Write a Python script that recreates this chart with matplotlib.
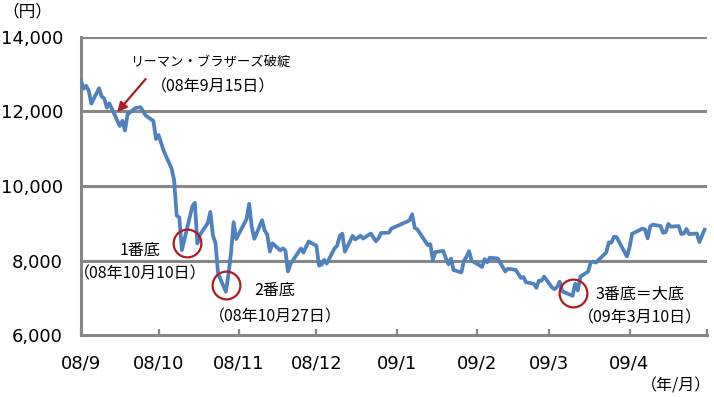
import matplotlib
matplotlib.use("Agg")
import matplotlib.pyplot as plt
import pandas as pd

plt.rcParams['font.family'] = ['Noto Sans CJK JP', 'DejaVu Sans']

# Nikkei average, daily close
dates = pd.to_datetime([
    "2008-09-01", "2008-09-02", "2008-09-03", "2008-09-04", "2008-09-05", "2008-09-08",
    "2008-09-09", "2008-09-10", "2008-09-11", "2008-09-12", "2008-09-16", "2008-09-17",
    "2008-09-18", "2008-09-19", "2008-09-22", "2008-09-24", "2008-09-25", "2008-09-26",
    "2008-09-29", "2008-09-30",
    "2008-10-01", "2008-10-02", "2008-10-03", "2008-10-06", "2008-10-07", "2008-10-08",
    "2008-10-09", "2008-10-10", "2008-10-14", "2008-10-15", "2008-10-16", "2008-10-17",
    "2008-10-20", "2008-10-21", "2008-10-22", "2008-10-23", "2008-10-24", "2008-10-27",
    "2008-10-28", "2008-10-29", "2008-10-30", "2008-10-31",
    "2008-11-04", "2008-11-05", "2008-11-06", "2008-11-07", "2008-11-10", "2008-11-11",
    "2008-11-12", "2008-11-13", "2008-11-14", "2008-11-17", "2008-11-18", "2008-11-19",
    "2008-11-20", "2008-11-21", "2008-11-25", "2008-11-26", "2008-11-27", "2008-11-28",
    "2008-12-01", "2008-12-02", "2008-12-03", "2008-12-04", "2008-12-05", "2008-12-08",
    "2008-12-09", "2008-12-10", "2008-12-11", "2008-12-12", "2008-12-15", "2008-12-16",
    "2008-12-17", "2008-12-18", "2008-12-19", "2008-12-22", "2008-12-24", "2008-12-25",
    "2008-12-26", "2008-12-29", "2008-12-30",
    "2009-01-05", "2009-01-06", "2009-01-07", "2009-01-08", "2009-01-09", "2009-01-13",
    "2009-01-14", "2009-01-15", "2009-01-16", "2009-01-19", "2009-01-20", "2009-01-21",
    "2009-01-22", "2009-01-23", "2009-01-26", "2009-01-27", "2009-01-28", "2009-01-29",
    "2009-01-30",
    "2009-02-02", "2009-02-03", "2009-02-04", "2009-02-05", "2009-02-06", "2009-02-09",
    "2009-02-10", "2009-02-12", "2009-02-13", "2009-02-16", "2009-02-17", "2009-02-18",
    "2009-02-19", "2009-02-20", "2009-02-23", "2009-02-24", "2009-02-25", "2009-02-26",
    "2009-02-27",
    "2009-03-02", "2009-03-03", "2009-03-04", "2009-03-05", "2009-03-06", "2009-03-09",
    "2009-03-10", "2009-03-11", "2009-03-12", "2009-03-13", "2009-03-16", "2009-03-17",
    "2009-03-18", "2009-03-19", "2009-03-23", "2009-03-24", "2009-03-25", "2009-03-26",
    "2009-03-27", "2009-03-30", "2009-03-31",
    "2009-04-01", "2009-04-02", "2009-04-03", "2009-04-06", "2009-04-07", "2009-04-08",
    "2009-04-09", "2009-04-10", "2009-04-13", "2009-04-14", "2009-04-15", "2009-04-16",
    "2009-04-17", "2009-04-20", "2009-04-21", "2009-04-22", "2009-04-23", "2009-04-24",
    "2009-04-27", "2009-04-28", "2009-04-30",
])
closes = [
    12834, 12609, 12690, 12558, 12212, 12624, 12401, 12347, 12103, 12215, 11610, 11750,
    11489, 11921, 12091, 12115, 12007, 11893, 11744, 11260,
    11368, 11155, 10938, 10473, 10156, 9203, 9157, 8276, 9448, 9547, 8458, 8694,
    9006, 9306, 8675, 8461, 7649, 7163, 7622, 8212, 9030, 8577,
    9115, 9521, 8899, 8583, 9081, 8809, 8693, 8239, 8462, 8272, 8328, 8273,
    7703, 7911, 8324, 8213, 8373, 8512,
    8397, 7864, 7889, 8017, 7918, 8329, 8396, 8660, 8721, 8236, 8664, 8568,
    8613, 8667, 8589, 8724, 8518, 8600, 8740, 8747, 8860,
    9043, 9081, 9239, 8876, 8837, 8414, 8438, 8023, 8230, 8257, 8066, 7902,
    8052, 7745, 7682, 7986, 8106, 8251, 7994,
    7874, 7826, 8038, 7950, 8077, 8056, 7946, 7705, 7779, 7750, 7646, 7534,
    7558, 7416, 7376, 7269, 7461, 7458, 7568,
    7280, 7230, 7291, 7433, 7173, 7086, 7055, 7376, 7198, 7569, 7704, 7949,
    7972, 7946, 8216, 8488, 8480, 8636, 8627, 8236, 8110,
    8352, 8720, 8750, 8858, 8833, 8595, 8916, 8964, 8924, 8743, 8768, 8982,
    8908, 8925, 8711, 8727, 8847, 8708, 8726, 8494, 8828,
]

month_ticks = pd.date_range("2008-09-01", "2009-05-01", freq="MS")
month_labels = ["08/9", "08/10", "08/11", "08/12", "09/1", "09/2", "09/3", "09/4", ""]
y_ticks = [6000, 8000, 10000, 12000, 14000]

# bottoms marked with circles
bottom_dates = pd.to_datetime(["2008-10-12", "2008-10-27", "2009-03-10"])
bottom_vals = [8470, 7340, 7130]

grid_c = '#868686'
line_c = '#4F81BD'
red_c = '#B01C24'

fig = plt.figure(figsize=(7.14, 3.97), dpi=100)
ax = fig.add_axes([0.1134, 0.156, 0.877, 0.751])

for v in y_ticks[1:]:
    ax.axhline(v, color=grid_c, lw=2.2, zorder=1)

ax.plot(dates, closes, color=line_c, lw=2.7, zorder=3, solid_joinstyle='round')

ax.plot(bottom_dates, bottom_vals, ls='none', marker='o', ms=20, mfc='none',
        mec=red_c, mew=1.6, zorder=4)

ax.set_xlim(pd.Timestamp("2008-09-01"), pd.Timestamp("2009-05-01"))
ax.set_ylim(6000, 14000)
ax.set_xticks(month_ticks)
ax.set_xticklabels(month_labels, family='DejaVu Sans')
ax.set_yticks(y_ticks)
ax.set_yticklabels([f"{v:,}" for v in y_ticks], family='DejaVu Sans')

for s in ['top', 'right']:
    ax.spines[s].set_visible(False)
for s in ['left', 'bottom']:
    ax.spines[s].set_color(grid_c)
    ax.spines[s].set_linewidth(2.2)
ax.tick_params(axis='x', direction='in', length=4.5, width=1.6, color=grid_c,
               labelsize=13, pad=14)
ax.tick_params(axis='y', length=0, labelsize=13, pad=13)

d = pd.Timestamp
ax.text(d("2008-10-21"), 13330, "リーマン・ブラザーズ破綻", ha='center', va='center', fontsize=9.6)
ax.text(d("2008-10-22"), 12650, "（08年9月15日）", ha='center', va='center', fontsize=11.5)
ax.annotate("", xy=(d("2008-09-15"), 11980), xytext=(d("2008-09-26"), 12870),
            arrowprops=dict(arrowstyle='-|>', color=red_c, lw=1.6, mutation_scale=14,
                            shrinkA=0, shrinkB=0), zorder=5)

ax.text(d("2008-09-24"), 8290, "1番底", ha='center', va='center', fontsize=11.5)
ax.text(d("2008-09-24"), 7630, "（08年10月10日）", ha='center', va='center', fontsize=11.5)
ax.text(d("2008-11-15"), 7210, "2番底", ha='center', va='center', fontsize=11.5)
ax.text(d("2008-11-15"), 6480, "（08年10月27日）", ha='center', va='center', fontsize=11.5)
ax.text(d("2009-04-05"), 7100, "3番底＝大底", ha='center', va='center', fontsize=11.5)
ax.text(d("2009-04-05"), 6450, "（09年3月10日）", ha='center', va='center', fontsize=11.5)

fig.text(27 / 714, 1 - 12 / 397, "（円）", ha='center', va='center', fontsize=12)
fig.text(711 / 714, 1 - 386 / 397, "（年/月）", ha='right', va='center', fontsize=11.5)

fig.savefig("out.png", dpi=100)
